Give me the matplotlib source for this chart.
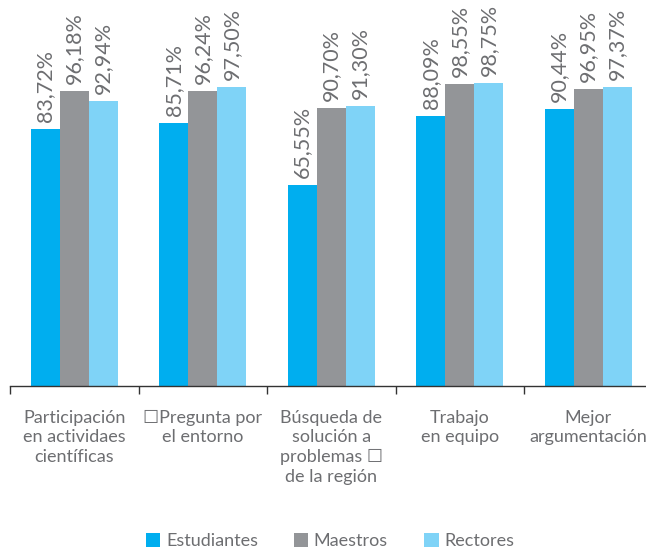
import numpy as np
import matplotlib
matplotlib.use("Agg")
import matplotlib.pyplot as plt

categories = ["Participación\nen actividaes\ncientíficas",
              "☐Pregunta por\nel entorno",
              "Búsqueda de\nsolución a\nproblemas ☐\nde la región",
              "Trabajo\nen equipo",
              "Mejor\nargumentación"]
series = ["Estudiantes", "Maestros", "Rectores"]
estudiantes = [83.72, 85.71, 65.55, 88.09, 90.44]
maestros = [96.18, 96.24, 90.70, 98.55, 96.95]
rectores = [92.94, 97.50, 91.30, 98.75, 97.37]
colors = ["#00AEEF", "#939598", "#7FD3F7"]
text_color = "#6D6E71"

plt.rcParams['font.family'] = ['Lato', 'DejaVu Sans']

fig = plt.figure(figsize=(6.46, 5.52), dpi=100)
ax = fig.add_axes([10/646, 1 - 386/552, 642.5/646, 386/552])

x = np.arange(len(categories))
w = 0.2257
for k, vals in enumerate([estudiantes, maestros, rectores]):
    pos = x + (k - 1) * w
    ax.bar(pos, vals, width=w, color=colors[k], label=series[k], zorder=2)
    for px, v in zip(pos, vals):
        ax.annotate(("%.2f%%" % v).replace(".", ","), (px, v),
                    xytext=(0, 5), textcoords="offset points",
                    rotation=90, ha="center", va="bottom",
                    fontsize=15.5, color=text_color)

ax.set_xlim(-0.5, 4.5)
ax.set_ylim(0, 386 / 3.068)
for s in ["top", "right", "left"]:
    ax.spines[s].set_visible(False)
ax.spines["bottom"].set_color("#333333")
ax.spines["bottom"].set_linewidth(1.0)
ax.set_yticks([])
ax.set_xticks(x)
ax.set_xticklabels(categories, fontsize=13, color=text_color, linespacing=1.28)
ax.tick_params(axis="x", which="major", length=0, pad=17)
ax.set_xticks(np.arange(-0.5, 5, 1), minor=True)
ax.tick_params(axis="x", which="minor", length=6, width=1, color="#333333")

fig.legend(loc="center", bbox_to_anchor=(330/646, 1 - 541/552), ncol=3,
           frameon=False, fontsize=13, handlelength=0.8, handleheight=0.8,
           handletextpad=0.3, columnspacing=2.0, labelcolor=text_color)

fig.savefig("out.png", dpi=100)
